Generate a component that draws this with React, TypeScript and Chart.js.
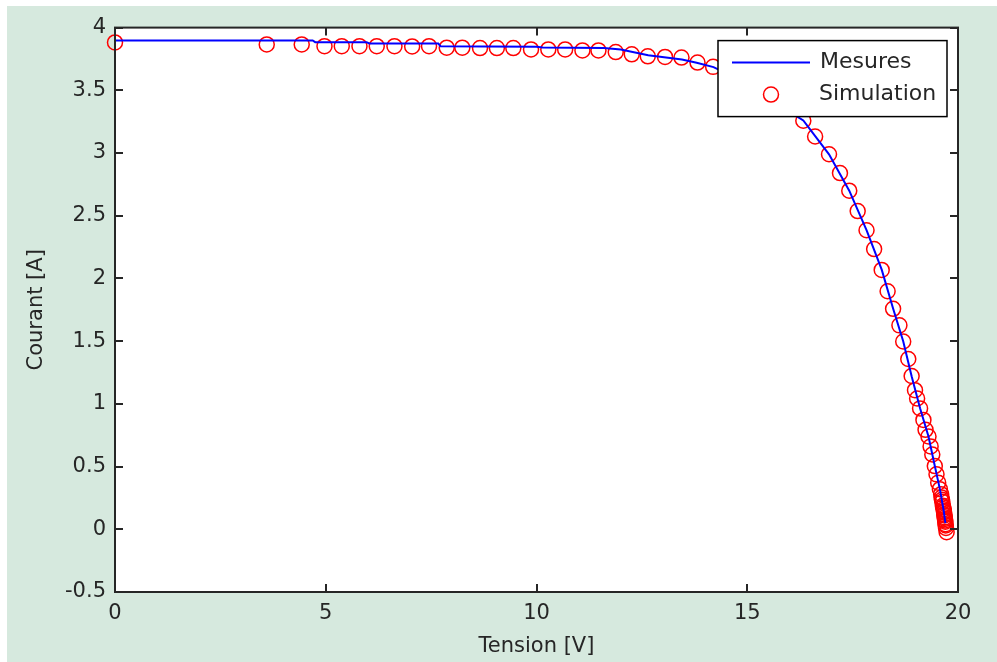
import React, { useEffect, useRef } from 'react';
import { Chart, registerables } from 'chart.js';

Chart.register(...registerables);

// ---- Data ----
const xTicks = [0, 5, 10, 15, 20];
const yTicks = [-0.5, 0, 0.5, 1, 1.5, 2, 2.5, 3, 3.5, 4];
const seriesLabels = ['Mesures', 'Simulation'];
const axisTitles = { x: 'Tension [V]', y: 'Courant [A]' };

// Mesures (blue line)
const mesV = [0, 4.69, 4.75, 5.97, 6.03, 7.67, 7.72, 10.0, 10.15, 11.6, 12.0, 12.65, 13.45, 13.8, 14.2, 14.6, 15.0, 15.5, 15.9, 16.33, 16.94, 17.42, 17.83, 18.19, 18.46, 18.70, 18.90, 19.10, 19.30, 19.45, 19.57, 19.66, 19.70];
const mesI = [3.897, 3.897, 3.884, 3.884, 3.874, 3.874, 3.852, 3.848, 3.842, 3.838, 3.825, 3.78, 3.745, 3.72, 3.685, 3.62, 3.54, 3.44, 3.35, 3.26, 2.99, 2.70, 2.385, 2.07, 1.76, 1.50, 1.22, 0.965, 0.74, 0.505, 0.32, 0.15, 0.05];

// Simulation (red circles)
const simV = [0, 3.60, 4.43, 4.97, 5.38, 5.80, 6.21, 6.63, 7.05, 7.45, 7.87, 8.24, 8.66, 9.06, 9.45, 9.87, 10.28, 10.68, 11.09, 11.47, 11.88, 12.26, 12.64, 13.05, 13.44, 13.82, 14.19, 14.61, 15.04, 15.47, 15.90, 16.33, 16.61, 16.94, 17.20, 17.42, 17.62, 17.83, 18.01, 18.19, 18.33, 18.46, 18.61, 18.70, 18.82, 18.90, 18.98, 19.03, 19.10, 19.18, 19.23, 19.30, 19.35, 19.39, 19.45, 19.49, 19.53, 19.57, 19.60, 19.61, 19.62, 19.63, 19.64, 19.65, 19.66, 19.665, 19.67, 19.675, 19.68, 19.685, 19.69, 19.695, 19.70, 19.705, 19.71, 19.715, 19.73];
const simI = [3.882, 3.866, 3.866, 3.852, 3.852, 3.852, 3.852, 3.852, 3.850, 3.852, 3.840, 3.840, 3.837, 3.837, 3.837, 3.826, 3.826, 3.826, 3.818, 3.818, 3.805, 3.787, 3.771, 3.766, 3.761, 3.721, 3.687, 3.613, 3.534, 3.448, 3.353, 3.258, 3.132, 2.990, 2.840, 2.700, 2.537, 2.384, 2.234, 2.068, 1.898, 1.758, 1.626, 1.497, 1.358, 1.222, 1.109, 1.043, 0.964, 0.872, 0.793, 0.740, 0.661, 0.596, 0.504, 0.438, 0.372, 0.320, 0.28, 0.253, 0.235, 0.22, 0.188, 0.175, 0.16, 0.145, 0.135, 0.12, 0.11, 0.095, 0.083, 0.07, 0.06, 0.04, 0.03, 0.01, -0.023];

const TEXT = '#262626';
const FONT = 'DejaVu Sans';

const matlabPlugin = {
  id: 'matlabLook',
  beforeDraw(chart: any) {
    const { ctx, chartArea: a } = chart;
    ctx.save();
    ctx.fillStyle = '#ffffff';
    ctx.fillRect(a.left, a.top, a.right - a.left, a.bottom - a.top);
    ctx.restore();
  },
  afterDatasetsDraw(chart: any) {
    const { ctx, chartArea: a, scales } = chart;
    const tl = 8;
    ctx.save();
    ctx.strokeStyle = TEXT;
    ctx.lineWidth = 2;
    ctx.beginPath();
    for (const v of xTicks) {
      const px = Math.round(scales.x.getPixelForValue(v));
      ctx.moveTo(px, a.bottom); ctx.lineTo(px, a.bottom - tl);
      ctx.moveTo(px, a.top); ctx.lineTo(px, a.top + tl);
    }
    for (const v of yTicks) {
      const py = Math.round(scales.y.getPixelForValue(v));
      ctx.moveTo(a.left, py); ctx.lineTo(a.left + tl, py);
      ctx.moveTo(a.right, py); ctx.lineTo(a.right - tl, py);
    }
    ctx.stroke();
    ctx.strokeRect(a.left, a.top, a.right - a.left, a.bottom - a.top);
    ctx.restore();
  },
  afterDraw(chart: any) {
    const { ctx, chartArea: a } = chart;
    const ds = chart.data.datasets;
    const w = 229, h = 76;
    const left = a.right - 11 - w;
    const top = a.top + 13;
    ctx.save();
    ctx.fillStyle = '#ffffff';
    ctx.fillRect(left, top, w, h);
    ctx.strokeStyle = '#000000';
    ctx.lineWidth = 1.5;
    ctx.strokeRect(left, top, w, h);
    const y1 = top + 22, y2 = top + 54;
    ctx.strokeStyle = ds[0].borderColor;
    ctx.lineWidth = ds[0].borderWidth;
    ctx.beginPath();
    ctx.moveTo(left + 14, y1); ctx.lineTo(left + 92, y1);
    ctx.stroke();
    ctx.strokeStyle = ds[1].borderColor;
    ctx.lineWidth = ds[1].borderWidth;
    ctx.beginPath();
    ctx.arc(left + 53, y2, ds[1].pointRadius, 0, Math.PI * 2);
    ctx.stroke();
    ctx.fillStyle = TEXT;
    ctx.font = `22px "${FONT}"`;
    ctx.textBaseline = 'middle';
    ctx.textAlign = 'left';
    ctx.fillText(ds[0].label, left + 102, y1);
    ctx.fillText(ds[1].label, left + 101, y2);
    ctx.restore();
  },
};

export default function App() {
  const ref = useRef<HTMLCanvasElement>(null);
  useEffect(() => {
    document.body.style.margin = '0';
    const canvas = ref.current!;
    const chart = new Chart(canvas, {
      type: 'scatter',
      data: {
        datasets: [
          {
            type: 'line',
            label: seriesLabels[0],
            data: mesV.map((v, i) => ({ x: v, y: mesI[i] })),
            borderColor: '#0000ff',
            backgroundColor: '#0000ff',
            borderWidth: 2,
            pointRadius: 0,
            showLine: true,
            tension: 0,
            fill: false,
            clip: false,
          } as any,
          {
            type: 'scatter',
            label: seriesLabels[1],
            data: simV.map((v, i) => ({ x: v, y: simI[i] })),
            borderColor: '#ff0000',
            backgroundColor: 'rgba(0,0,0,0)',
            borderWidth: 1.5,
            pointRadius: 7.5,
            pointStyle: 'circle',
            showLine: false,
            clip: false,
          } as any,
        ],
      },
      options: {
        responsive: false,
        animation: false,
        devicePixelRatio: 1,
        events: [],
        layout: { padding: { top: 16, right: 39, left: 0, bottom: 0 } },
        plugins: { legend: { display: false }, tooltip: { enabled: false } },
        scales: {
          x: {
            type: 'linear',
            min: 0,
            max: 20,
            afterBuildTicks: (s: any) => { s.ticks = xTicks.map((v) => ({ value: v })); },
            afterFit: (s: any) => { s.height = 70; },
            grid: { display: false, drawTicks: false },
            border: { display: false },
            ticks: { color: TEXT, font: { family: FONT, size: 21 }, padding: 9, maxRotation: 0, autoSkip: false, callback: (v: any) => String(v) },
            title: { display: true, text: axisTitles.x, color: TEXT, font: { family: FONT, size: 21 }, padding: { top: 0, bottom: 3 } },
          },
          y: {
            type: 'linear',
            min: -0.5,
            max: 4,
            afterBuildTicks: (s: any) => { s.ticks = yTicks.map((v) => ({ value: v })); },
            afterFit: (s: any) => { s.width = 108; },
            grid: { display: false, drawTicks: false },
            border: { display: false },
            ticks: { color: TEXT, font: { family: FONT, size: 21 }, padding: 9, autoSkip: false, callback: (v: any) => String(v) },
            title: { display: true, text: axisTitles.y, color: TEXT, font: { family: FONT, size: 21 }, padding: { top: 17, bottom: 0 } },
          },
        },
      } as any,
      plugins: [matlabPlugin],
    });
    return () => chart.destroy();
  }, []);
  return (
    <div style={{ position: 'absolute', left: 7, top: 6, width: 990, height: 656, background: '#d6e9de' }}>
      <canvas ref={ref} width={990} height={656} style={{ display: 'block' }} />
    </div>
  );
}
